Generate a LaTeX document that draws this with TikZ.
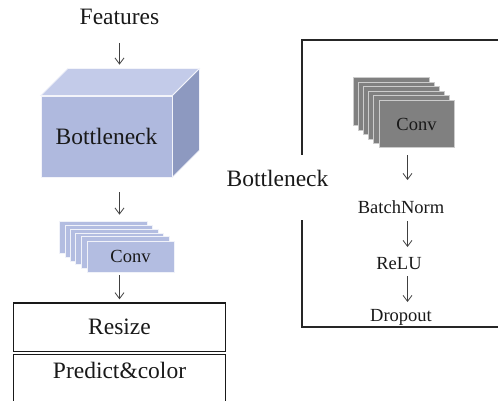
\documentclass[tikz,border=0pt]{standalone}
\usepackage{fontspec}
\setmainfont{Liberation Serif}
\usetikzlibrary{arrows.meta,backgrounds}
\definecolor{cubefrontc}{HTML}{AFB9DE}
\definecolor{cubetopc}{HTML}{C3CBE9}
\definecolor{cubesidec}{HTML}{8D99C0}
\definecolor{layerbluec}{HTML}{B3BDE1}
\definecolor{layergrayc}{HTML}{808080}
\begin{document}
\begin{tikzpicture}[x=1pt,y=-1pt,
  big/.style={font=\fontsize{23.5}{28}\selectfont, inner sep=0pt, text=black!90},
  small/.style={font=\fontsize{18.5}{22}\selectfont, inner sep=0pt, text=black!90},
  arr/.style={draw=black!75, line width=0.8pt, -{Straight Barb[length=6pt,width=9pt]}},
  frame/.style={draw=black!85, line width=1.3pt},
  box/.style={draw=black!90, line width=1.3pt, rectangle, inner sep=0pt},
  cubeface/.style={draw=white!85!cubefrontc, line width=0.8pt},
  layerblue/.style={fill=layerbluec, draw=white!80!layerbluec, line width=0.8pt},
  layergray/.style={fill=layergrayc, draw=black!20, line width=0.8pt},
]
\useasboundingbox (0,0) rectangle (498,401);
\clip (0,0) rectangle (498,401);

% ---------- left column ----------
\node[big, anchor=base] (feat) at (119.5,25) {Features};

% bottleneck block drawn as a shaded box
\node[cubeface, fill=cubefrontc, rectangle, minimum width=131pt, minimum height=81pt, big]
  (cube) at (106.5,136.5) {Bottleneck};
\filldraw[cubeface, fill=cubetopc] (cube.north west) -- ++(27,-27)
  -- ([shift={(27,-27)}]cube.north east) -- (cube.north east) -- cycle;
\filldraw[cubeface, fill=cubesidec] (cube.north east) -- ++(27,-27)
  -- ([shift={(27,-27)}]cube.south east) -- (cube.south east) -- cycle;

% stacked convolution maps
\node[layerblue, rectangle, minimum width=87pt, minimum height=31pt, small]
  (convL) at (130.5,256.5) {Conv};
\begin{scope}[on background layer]
  \foreach \k in {5,4,3,2,1}
    \filldraw[layerblue] ([shift={(-5.4*\k,-3.8*\k)}]convL.south west)
      rectangle ([shift={(-5.4*\k,-3.8*\k)}]convL.north east);
\end{scope}

\node[box, minimum width=212pt, minimum height=48.5pt, big] (resize) at (119.5,327.2) {Resize};
\node[box, minimum width=212pt, minimum height=54pt, anchor=north] (pred) at (119.5,354) {};
\node[big, anchor=base] (predtxt) at ([yshift=-24pt]pred.north) {Predict\&color};

\draw[arr] ([yshift=-18pt]feat.base) -- ([yshift=31pt]cube.north -| feat.base);
\draw[arr] ([yshift=-15pt]cube.south -| resize.north) -- ([yshift=26pt]convL.north -| resize.north);
\draw[arr] ([yshift=-3pt]convL.south -| resize.north) -- ([yshift=3pt]resize.north);

% ---------- right panel: inside the bottleneck ----------
\node[big, anchor=base] (blabel) at (277.5,186.7) {Bottleneck};
\draw[frame] (510,40) -- (302,40) -- (302,155);
\draw[frame] (302,220) -- (302,327) -- (510,327);

\node[layergray, rectangle, minimum width=75pt, minimum height=47pt, small]
  (convR) at (416.5,124.3) {Conv};
\begin{scope}[on background layer]
  \foreach \k in {5,4,3,2,1}
    \filldraw[layergray] ([shift={(-5*\k,-4.5*\k)}]convR.south west)
      rectangle ([shift={(-5*\k,-4.5*\k)}]convR.north east);
\end{scope}

\node[small, anchor=base] (bn) at (401,213.5) {BatchNorm};
\node[small, anchor=base] (relu) at (399,269.5) {ReLU};
\node[small, anchor=base] (drop) at (401,321.5) {Dropout};
\coordinate (rax) at (407.5,0);

\draw[arr] ([yshift=-7pt]convR.south -| rax) -- ([yshift=33.5pt]bn.base -| rax);
\draw[arr] ([yshift=-7.5pt]bn.base -| rax) -- ([yshift=22.5pt]relu.base -| rax);
\draw[arr] ([yshift=-6.5pt]relu.base -| rax) -- ([yshift=19.5pt]drop.base -| rax);
\end{tikzpicture}
\end{document}
